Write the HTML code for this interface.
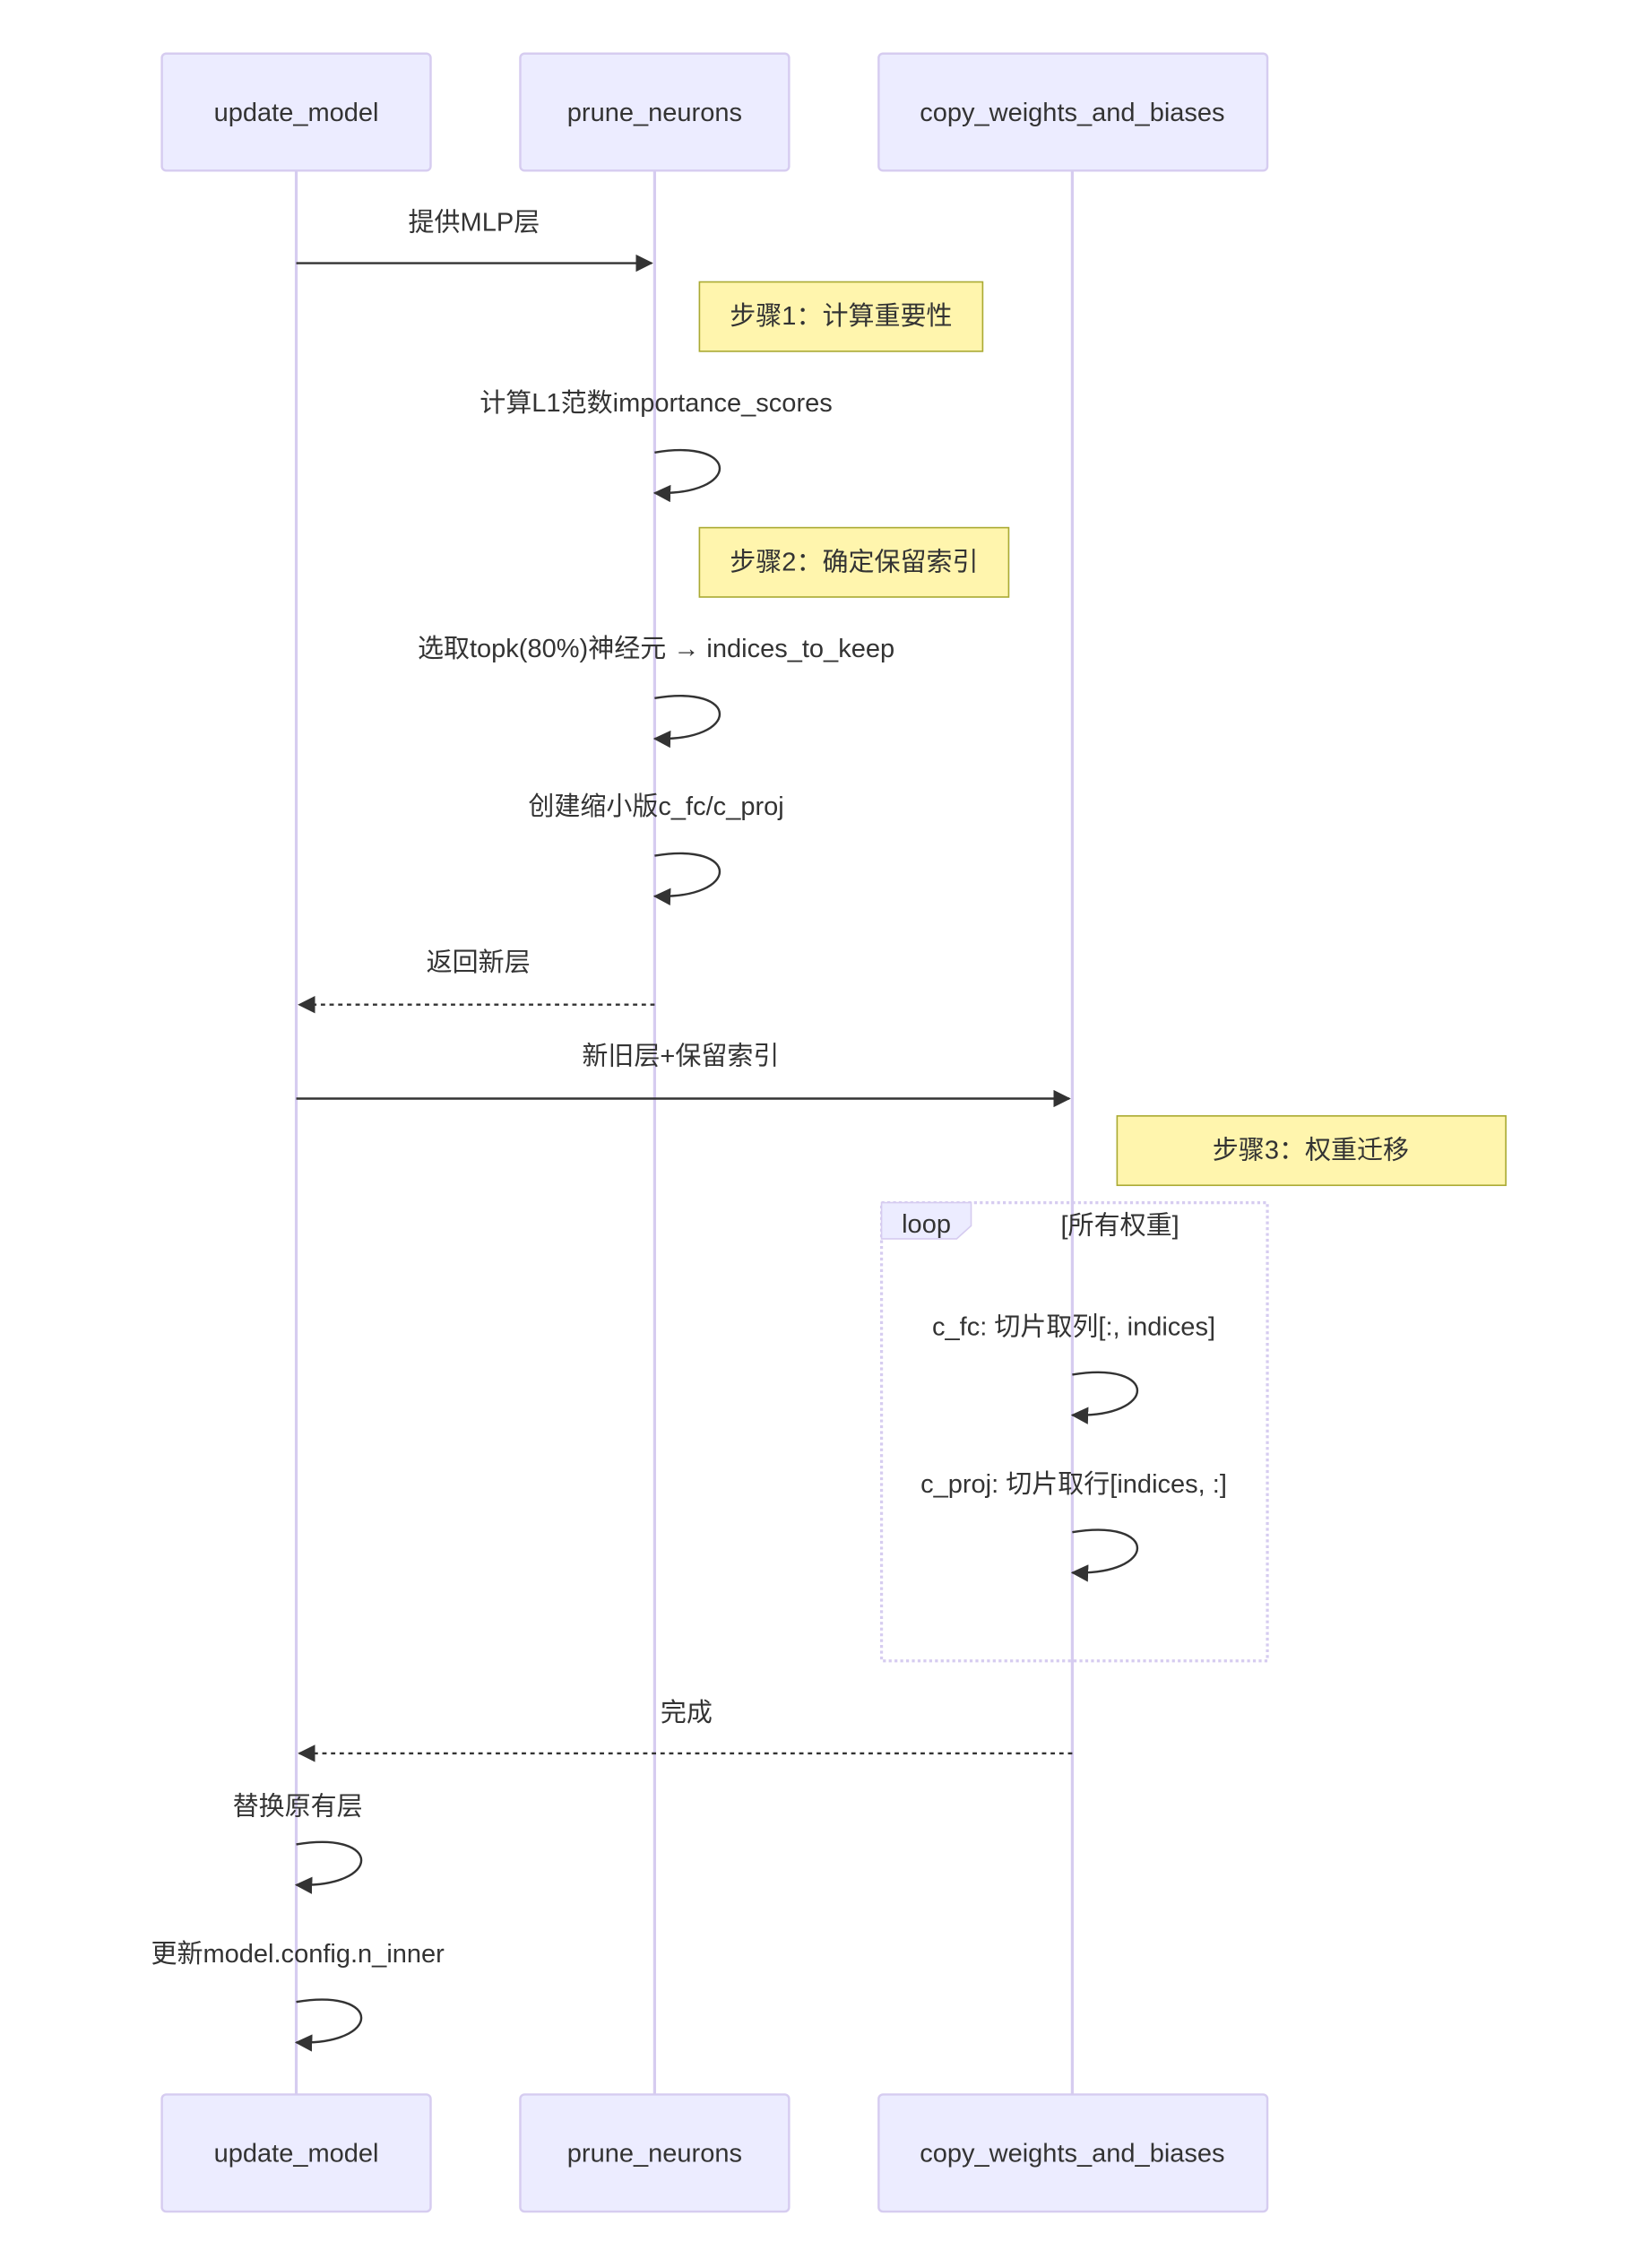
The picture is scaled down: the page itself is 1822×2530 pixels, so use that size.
<!DOCTYPE html>
<html><head><meta charset="utf-8"><style>
html,body{margin:0;padding:0;background:#fff;}
svg{display:block;}
text{font-family:"Liberation Sans","Noto Sans CJK SC",sans-serif;fill:#333;font-size:18px;}
</style></head><body>
<svg width="1822" height="2530" viewBox="0 0 1130 1569" xmlns="http://www.w3.org/2000/svg">
<defs>
<marker id="ah" markerWidth="12" markerHeight="12" refX="11" refY="6" orient="auto" markerUnits="userSpaceOnUse">
<path d="M0,0 L12,6 L0,12 z" fill="#333"/>
</marker>
</defs>
<rect width="1130" height="1569" fill="#fff"/>
<!-- lifelines -->
<g stroke="#d6ccf0" stroke-width="2">
<line x1="205" y1="118" x2="205" y2="1449"/>
<line x1="453" y1="118" x2="453" y2="1449"/>
<line x1="742" y1="118" x2="742" y2="1449"/>
</g>
<!-- actors -->
<g fill="#ececff" stroke="#d6ccf0" stroke-width="1.5">
<rect x="112" y="37" width="186" height="81" rx="3"/>
<rect x="360" y="37" width="186" height="81" rx="3"/>
<rect x="608" y="37" width="269" height="81" rx="3"/>
<rect x="112" y="1449" width="186" height="81" rx="3"/>
<rect x="360" y="1449" width="186" height="81" rx="3"/>
<rect x="608" y="1449" width="269" height="81" rx="3"/>
</g>
<g text-anchor="middle" dominant-baseline="central">
<text x="205" y="78">update_model</text>
<text x="453" y="78">prune_neurons</text>
<text x="742" y="78">copy_weights_and_biases</text>
<text x="205" y="1490">update_model</text>
<text x="453" y="1490">prune_neurons</text>
<text x="742" y="1490">copy_weights_and_biases</text>
</g>
<!-- notes -->
<g fill="#fff5ad" stroke="#aaaa33" stroke-width="1">
<rect x="484" y="195" width="196" height="48"/>
<rect x="484" y="365" width="214" height="48"/>
<rect x="773" y="772" width="269" height="48"/>
</g>
<g text-anchor="middle" dominant-baseline="central">
<text x="582" y="219">步骤1：计算重要性</text>
<text x="591" y="389">步骤2：确定保留索引</text>
<text x="907" y="796">步骤3：权重迁移</text>
</g>
<!-- loop box -->
<rect x="610" y="832" width="267" height="317" fill="none" stroke="#d6ccf0" stroke-width="2" stroke-dasharray="2,2"/>
<polygon points="610,832 672,832 672,848 662,857 610,857" fill="#ececff" stroke="#d6ccf0" stroke-width="1"/>
<text x="641" y="847" text-anchor="middle" dominant-baseline="central">loop</text>
<text x="775" y="848" text-anchor="middle" dominant-baseline="central">[所有权重]</text>
<!-- messages -->
<g stroke="#333" stroke-width="1.5" fill="none">
<line x1="205" y1="182" x2="451" y2="182" marker-end="url(#ah)"/>
<path d="M453,313 C513,303 513,343 453,341" marker-end="url(#ah)"/>
<path d="M453,483 C513,473 513,513 453,511" marker-end="url(#ah)"/>
<path d="M453,592 C513,582 513,622 453,620" marker-end="url(#ah)"/>
<line x1="453" y1="695" x2="207" y2="695" stroke-dasharray="3,3" marker-end="url(#ah)"/>
<line x1="205" y1="760" x2="740" y2="760" marker-end="url(#ah)"/>
<path d="M742,951 C802,941 802,981 742,979" marker-end="url(#ah)"/>
<path d="M742,1060 C802,1050 802,1090 742,1088" marker-end="url(#ah)"/>
<line x1="742" y1="1213" x2="207" y2="1213" stroke-dasharray="3,3" marker-end="url(#ah)"/>
<path d="M205,1276 C265,1266 265,1306 205,1304" marker-end="url(#ah)"/>
<path d="M205,1385 C265,1375 265,1415 205,1413" marker-end="url(#ah)"/>
</g>
<g text-anchor="middle" dominant-baseline="central">
<text x="328" y="154">提供MLP层</text>
<text x="454" y="279">计算L1范数importance_scores</text>
<text x="454" y="449">选取topk(80%)神经元 → indices_to_keep</text>
<text x="454" y="558">创建缩小版c_fc/c_proj</text>
<text x="331" y="666">返回新层</text>
<text x="471" y="731">新旧层+保留索引</text>
<text x="743" y="918">c_fc: 切片取列[:, indices]</text>
<text x="743" y="1027">c_proj: 切片取行[indices, :]</text>
<text x="475" y="1185">完成</text>
<text x="206" y="1250">替换原有层</text>
<text x="206" y="1352">更新model.config.n_inner</text>
</g>
</svg>
</body></html>
